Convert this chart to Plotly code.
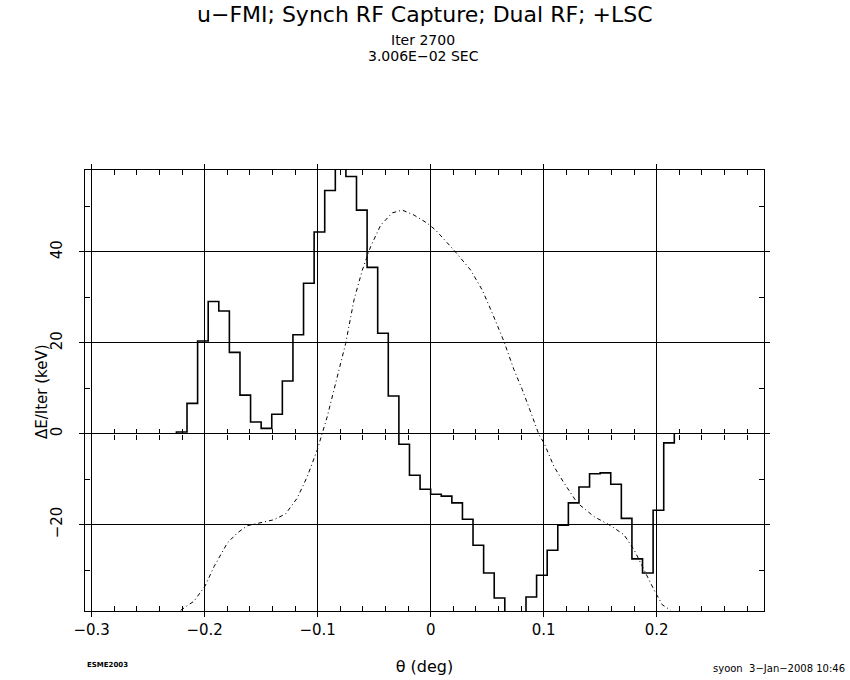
import plotly.graph_objects as go

# ---------------- data ----------------
# histogram: 64 bins over [-0.3, 0.3]; values listed from bin 8 to bin 54
hist_first_bin = 8
hist_lo = -0.3
hist_hi = 0.3
hist_nbins = 64
hist_values = [
    0.4, 6.7, 20.4, 29.1, 27.0, 17.9, 8.5, 2.6, 1.2, 4.3,
    11.6, 21.8, 33.1, 44.4, 53.5, 63.0, 56.6, 49.2, 36.6, 22.1,
    8.3, -2.3, -9.1, -12.2, -13.3, -13.7, -15.2, -18.8, -24.5, -30.6,
    -36.1, -43.0, -42.0, -35.9, -31.1, -25.6, -20.1, -15.2, -11.7, -8.8,
    -8.6, -11.1, -18.6, -27.5, -30.6, -16.8, -2.0,
]

# dash-dot curve (theta in deg, dE/Iter in keV)
curve_theta = [
    -0.2212, -0.2094, -0.1997, -0.1917, -0.1799, -0.1711, -0.1622, -0.1504,
    -0.1387, -0.1283, -0.1180, -0.1092, -0.1003, -0.0915, -0.0826, -0.0752,
    -0.0678, -0.0605, -0.0531, -0.0442, -0.0339, -0.0251, -0.0147, -0.0029,
    0.0044, 0.0206, 0.0354, 0.0457, 0.0546, 0.0649, 0.0737, 0.0811,
    0.0900, 0.0958, 0.1003, 0.1091, 0.1180, 0.1298, 0.1445, 0.1593,
    0.1711, 0.1800, 0.1888, 0.1976, 0.2050, 0.2124,
]
curve_de = [
    -38.8, -36.8, -33.5, -29.2, -24.0, -21.8, -20.2, -19.6,
    -18.9, -17.6, -14.1, -9.4, -3.5, 3.8, 12.6, 19.9,
    29.5, 36.0, 41.2, 45.9, 48.6, 49.2, 48.1, 46.3,
    44.8, 40.4, 36.0, 31.6, 26.5, 20.3, 14.1, 9.7,
    3.8, -0.2, -2.0, -7.2, -10.8, -15.2, -18.2, -20.2,
    -22.2, -25.5, -29.9, -34.3, -37.6, -38.8,
]

x_range = [-0.3059, 0.2950]
y_range = [-38.97, 58.02]

title_text = "u\u2212FMI; Synch RF Capture; Dual RF; +LSC"
sub1_text = "Iter 2700"
sub2_text = "3.006E\u221202 SEC"
xlabel = "\u03b8 (deg)"
ylabel = "\u0394E/Iter (keV)"
foot_left = "ESME2003"
foot_right = "syoon  3\u2212Jan\u22122008 10:46"

# ---------------- build ----------------
bw = (hist_hi - hist_lo) / hist_nbins
edges = [hist_lo + (hist_first_bin + i) * bw for i in range(len(hist_values) + 1)]
step_x = [edges[0]] + edges
step_y = [0.0] + hist_values + [0.0]

FONT = "DejaVu Sans"
BLACK = "#000000"
LW = 1.4

fig = go.Figure()
fig.add_trace(go.Scatter(x=step_x, y=step_y, mode="lines",
                         line=dict(color=BLACK, width=1.6, shape="hv"),
                         showlegend=False, hoverinfo="skip"))
fig.add_trace(go.Scatter(x=curve_theta, y=curve_de, mode="lines",
                         line=dict(color=BLACK, width=1, dash="4px,3px,1px,3px"),
                         showlegend=False, hoverinfo="skip"))
# dummy traces so the overlay tick axes are drawn
for xa, ya in (("x2", "y"), ("x3", "y"), ("x", "y2"), ("x", "y3")):
    fig.add_trace(go.Scatter(x=[None], y=[None], xaxis=xa, yaxis=ya,
                             showlegend=False, hoverinfo="skip"))

p_y0 = (0 - y_range[0]) / (y_range[1] - y_range[0])
p_x0 = (0 - x_range[0]) / (x_range[1] - x_range[0])

axis_common = dict(showline=True, linecolor=BLACK, linewidth=LW, mirror="allticks",
                   showgrid=True, gridcolor=BLACK, gridwidth=LW, zeroline=False,
                   ticks="outside", ticklen=5, tickcolor=BLACK, tickwidth=LW,
                   automargin=False,
                   tickfont=dict(family=FONT, size=15, color=BLACK))

overlay_common = dict(showline=False, showgrid=False, zeroline=False,
                      showticklabels=False, ticks="")

fig.update_layout(
    width=850, height=680,
    margin=dict(l=85, r=86, t=170, b=69),
    paper_bgcolor="white", plot_bgcolor="white",
    font=dict(family=FONT, color=BLACK),
    xaxis=dict(range=x_range, dtick=0.1, tick0=0,
               minor=dict(dtick=0.02, ticks="inside", ticklen=5, tickcolor=BLACK,
                          tickwidth=LW, showgrid=False),
               title=dict(text=xlabel, font=dict(family=FONT, size=16), standoff=22),
               **axis_common),
    yaxis=dict(range=y_range, dtick=20, tick0=0, tickangle=-90, ticklabelstandoff=11,
               minor=dict(dtick=10, ticks="inside", ticklen=5, tickcolor=BLACK,
                          tickwidth=LW, showgrid=False),
               **axis_common),
    xaxis2=dict(overlaying="x", anchor="free", position=p_y0, range=x_range,
                minor=dict(dtick=0.02, ticks="inside", ticklen=5, tickcolor=BLACK, tickwidth=LW),
                **overlay_common),
    xaxis3=dict(overlaying="x", anchor="free", position=p_y0, range=x_range,
                minor=dict(dtick=0.02, ticks="outside", ticklen=5, tickcolor=BLACK, tickwidth=LW),
                **overlay_common),
    yaxis2=dict(overlaying="y", anchor="free", position=p_x0, range=y_range,
                minor=dict(dtick=10, ticks="inside", ticklen=5, tickcolor=BLACK, tickwidth=LW),
                **overlay_common),
    yaxis3=dict(overlaying="y", anchor="free", position=p_x0, range=y_range,
                minor=dict(dtick=10, ticks="outside", ticklen=5, tickcolor=BLACK, tickwidth=LW),
                **overlay_common),
)

H = 441.0  # plot height in px, for placing header / footer text


def py(ypix):
    return (611 - ypix) / H


def px(xpix):
    return (xpix - 85) / 679.0


annots = [
    dict(text=title_text, x=px(425), y=py(14), size=22),
    dict(text=sub1_text, x=px(423), y=py(40), size=14),
    dict(text=sub2_text, x=px(423), y=py(56), size=14),
]
for a in annots:
    fig.add_annotation(text=a["text"], x=a["x"], y=a["y"], xref="paper", yref="paper",
                       xanchor="center", yanchor="middle", showarrow=False,
                       font=dict(family=FONT, size=a["size"], color=BLACK))
fig.add_annotation(text=ylabel, x=px(42), y=py(392), xref="paper", yref="paper",
                   xanchor="center", yanchor="middle", showarrow=False, textangle=-90,
                   font=dict(family=FONT, size=15, color=BLACK))
fig.add_annotation(text="<b>" + foot_left + "</b>", x=px(85), y=py(665), xref="paper", yref="paper",
                   xanchor="left", yanchor="middle", showarrow=False,
                   font=dict(family=FONT, size=7, color=BLACK))
fig.add_annotation(text=foot_right, x=px(847), y=py(668), xref="paper", yref="paper",
                   xanchor="right", yanchor="middle", showarrow=False,
                   font=dict(family=FONT, size=10, color=BLACK))

fig.write_html("out.html", config={"displayModeBar": False},
               post_script="document.body.style.margin='0px';document.body.style.overflow='hidden';")
